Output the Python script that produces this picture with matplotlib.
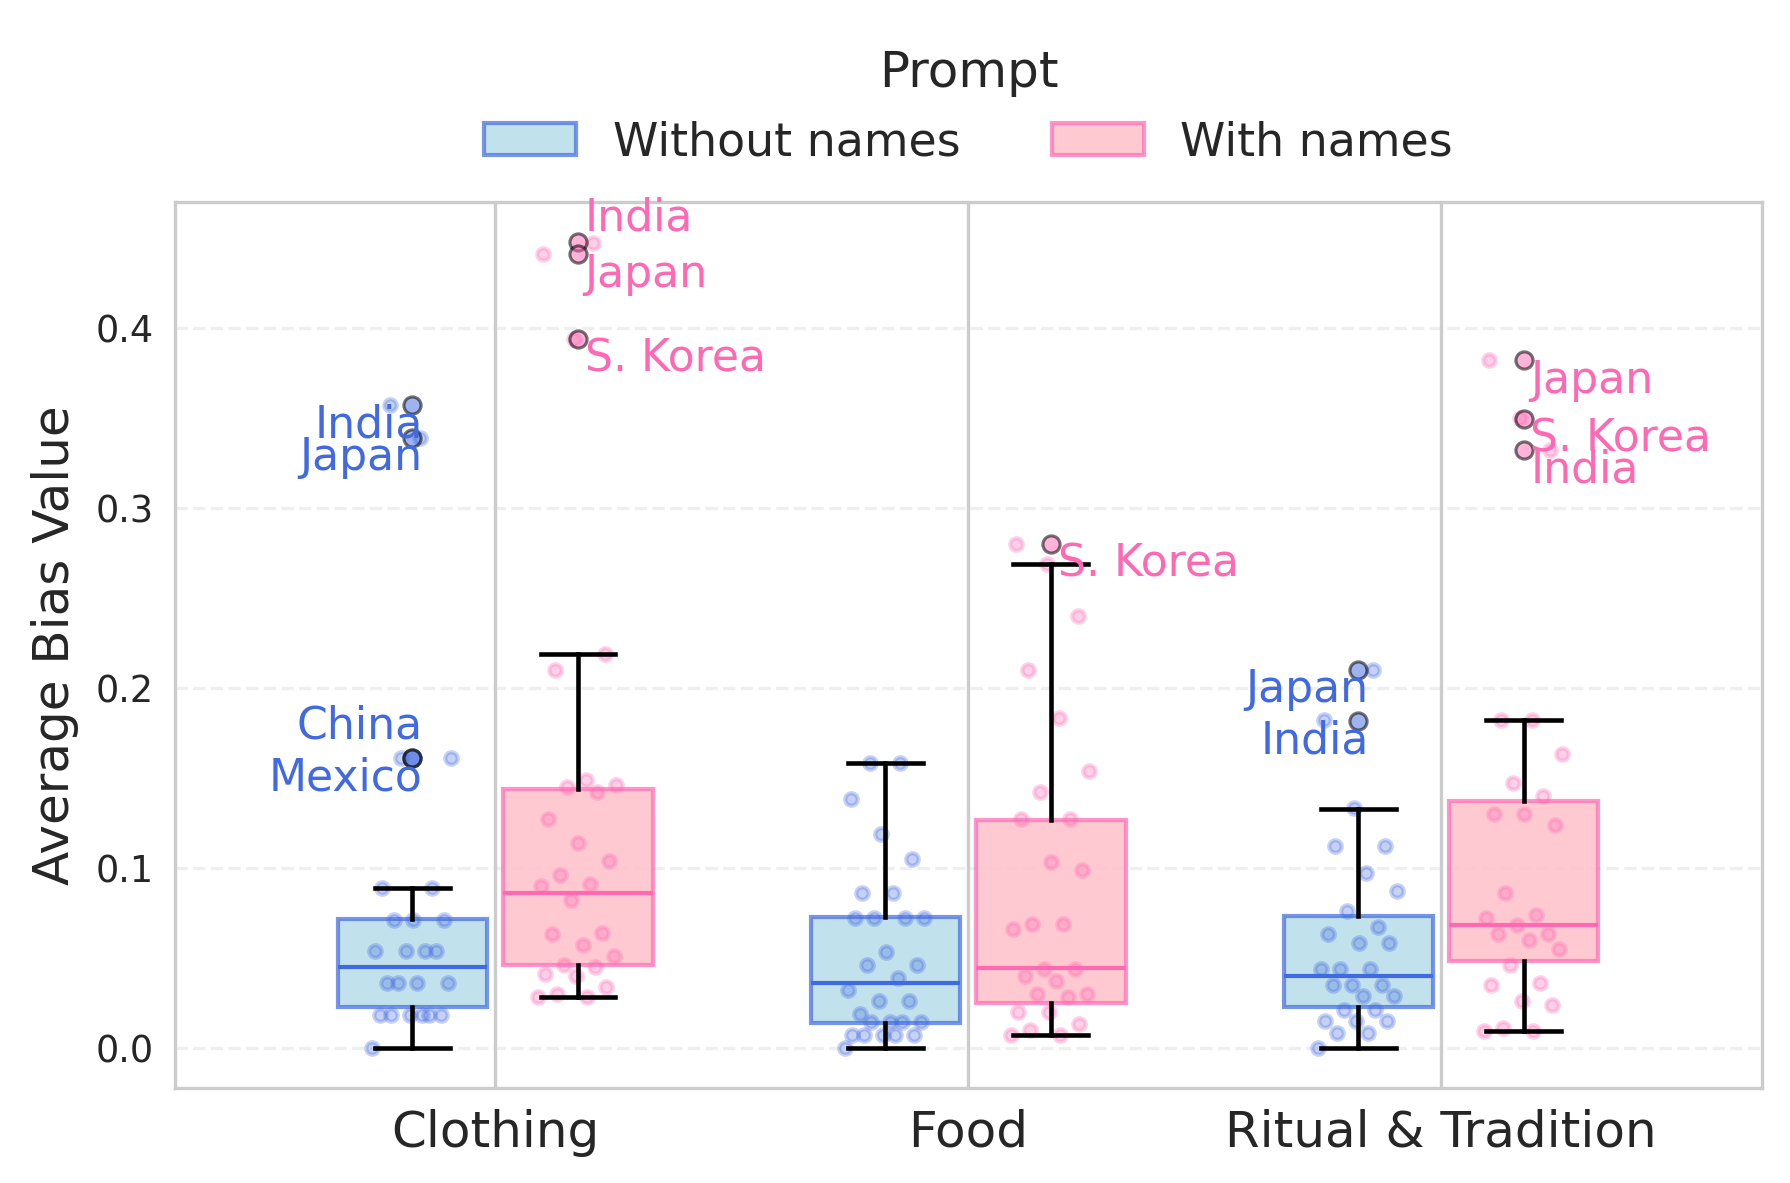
import numpy as np
import matplotlib.pyplot as plt
from matplotlib.patches import Patch
from matplotlib.colors import to_rgba

categories = ['Clothing', 'Food', 'Ritual & Tradition']
prompts = ['Without names', 'With names']

# per-country average bias values (strip points)
clothing_without = [0.0, 0.018, 0.018, 0.018, 0.018, 0.018, 0.018, 0.036, 0.036, 0.036, 0.036,
                    0.054, 0.054, 0.054, 0.054, 0.071, 0.071, 0.071, 0.089, 0.089,
                    0.161, 0.161, 0.339, 0.357]
clothing_with = [0.028, 0.028, 0.030, 0.034, 0.040, 0.041, 0.045, 0.046, 0.051, 0.057, 0.063,
                 0.064, 0.082, 0.090, 0.091, 0.096, 0.104, 0.114, 0.127, 0.142, 0.145, 0.146,
                 0.149, 0.210, 0.219, 0.394, 0.441, 0.447]
food_without = [0.0, 0.007, 0.007, 0.007, 0.007, 0.007, 0.014, 0.014, 0.014, 0.014, 0.019,
                0.026, 0.026, 0.032, 0.039, 0.046, 0.046, 0.053, 0.072, 0.072, 0.072, 0.072,
                0.086, 0.086, 0.105, 0.119, 0.138, 0.158, 0.158]
food_with = [0.007, 0.007, 0.010, 0.013, 0.020, 0.020, 0.028, 0.030, 0.030, 0.037, 0.040,
             0.044, 0.044, 0.066, 0.069, 0.069, 0.099, 0.103, 0.127, 0.127, 0.142, 0.154,
             0.183, 0.210, 0.240, 0.269, 0.280]
ritual_without = [0.0, 0.008, 0.008, 0.015, 0.015, 0.015, 0.021, 0.021, 0.029, 0.029, 0.035,
                  0.035, 0.035, 0.044, 0.044, 0.044, 0.058, 0.058, 0.063, 0.067, 0.076, 0.087,
                  0.097, 0.112, 0.112, 0.133, 0.182, 0.210]
ritual_with = [0.009, 0.009, 0.011, 0.024, 0.026, 0.035, 0.036, 0.046, 0.055, 0.060, 0.063,
               0.063, 0.068, 0.072, 0.074, 0.086, 0.124, 0.130, 0.130, 0.140, 0.147, 0.163,
               0.182, 0.182, 0.332, 0.350, 0.382]

# box statistics: (whisker low, q1, median, q3, whisker high)
box_without = [(0.0, 0.0225, 0.0446, 0.0714, 0.089),
               (0.0, 0.0137, 0.0362, 0.0724, 0.1584),
               (0.0, 0.0225, 0.0400, 0.0734, 0.1328)]
box_with = [(0.0284, 0.0457, 0.0859, 0.1436, 0.219),
            (0.0069, 0.0249, 0.0444, 0.1267, 0.2686),
            (0.0090, 0.0483, 0.0680, 0.1370, 0.182)]

# labelled outliers: (category index, prompt index, country, value)
outliers = [
    (0, 0, 'India', 0.357), (0, 0, 'Japan', 0.339), (0, 0, 'China', 0.161), (0, 0, 'Mexico', 0.161),
    (0, 1, 'India', 0.4475), (0, 1, 'Japan', 0.441), (0, 1, 'S. Korea', 0.3937),
    (1, 1, 'S. Korea', 0.280),
    (2, 0, 'Japan', 0.210), (2, 0, 'India', 0.1816),
    (2, 1, 'Japan', 0.382), (2, 1, 'S. Korea', 0.3495), (2, 1, 'India', 0.332),
]
# labels nudged upwards to avoid overlaps (offset in points)
label_nudge = {(0, 0, 'China'): 7.7, (0, 1, 'India'): 5.8}

points = [[clothing_without, clothing_with], [food_without, food_with], [ritual_without, ritual_with]]

face_cols = [to_rgba('lightblue', 0.75), to_rgba('pink', 0.85)]
edge_cols = [to_rgba('royalblue', 0.7), to_rgba('hotpink', 0.7)]
line_cols = ['royalblue', 'hotpink']
offsets = [-0.175, 0.175]
box_w = 0.316
text_col = '#262626'

fig = plt.figure(figsize=(1790 / 300, 1183 / 300), dpi=300)
ax = fig.add_axes([0.0978, 0.0803, 0.9844 - 0.0978, 0.8292 - 0.0803])

for j in range(2):
    stats = []
    for i in range(3):
        lo, q1, med, q3, hi = (box_without if j == 0 else box_with)[i]
        stats.append(dict(whislo=lo, q1=q1, med=med, q3=q3, whishi=hi, fliers=[]))
    pos = [i + offsets[j] for i in range(3)]
    ax.bxp(stats, positions=pos, widths=box_w, patch_artist=True, showfliers=False,
           boxprops=dict(facecolor=face_cols[j], edgecolor=edge_cols[j], linewidth=1.0, zorder=2),
           medianprops=dict(color=line_cols[j], linewidth=1.0, zorder=4),
           whiskerprops=dict(color='black', linewidth=1.1, zorder=4),
           capprops=dict(color='black', linewidth=1.1, zorder=4))

    for i in range(3):
        vals = np.array(points[i][j])
        n = len(vals)
        jit = ((np.arange(n) * 0.618034) % 1 - 0.5) * 2 * 0.085
        ax.scatter(i + offsets[j] + jit, vals, s=9, color=line_cols[j], alpha=0.3,
                   linewidths=1.0, zorder=3)

for ci, pj, name, val in outliers:
    x = ci + offsets[pj]
    ax.scatter([x], [val], s=17, facecolor=to_rgba(line_cols[pj], 0.5),
               edgecolor=(0, 0, 0, 0.55), linewidths=0.75, zorder=5)
    dy = label_nudge.get((ci, pj, name), -4.8)
    if pj == 0:
        ax.annotate(name, (x, val), xytext=(2.5, dy), textcoords='offset points',
                    ha='right', va='center', color=line_cols[pj], fontsize=10.6, zorder=6)
    else:
        ax.annotate(name, (x, val), xytext=(1.6, dy), textcoords='offset points',
                    ha='left', va='center', color=line_cols[pj], fontsize=10.6, zorder=6)

ax.set_xlim(-0.677, 2.679)
ax.set_ylim(-0.0224, 0.4699)
ax.set_xticks(range(3))
ax.set_xticklabels(categories, fontsize=12, color=text_col)
ax.set_yticks([0.0, 0.1, 0.2, 0.3, 0.4])
ax.set_yticklabels(['0.0', '0.1', '0.2', '0.3', '0.4'], fontsize=8.8, color=text_col)
ax.tick_params(length=0, pad=5)
ax.set_ylabel('Average Bias Value', fontsize=12, color=text_col)

ax.set_axisbelow(True)
ax.xaxis.grid(True, color='#cccccc', linewidth=0.8)
ax.yaxis.grid(True, color='#cccccc', linestyle='--', linewidth=0.8, alpha=0.3)
for sp in ax.spines.values():
    sp.set_color('#cccccc')
    sp.set_linewidth(0.8)

handles = [Patch(facecolor=face_cols[k], edgecolor=edge_cols[k], linewidth=1.0) for k in range(2)]
leg = ax.legend(handles, prompts, title='Prompt', loc='lower center', bbox_to_anchor=(0.5, 0.995),
                ncol=2, frameon=False, fontsize=11, title_fontsize=12)
for t in leg.get_texts():
    t.set_color(text_col)
leg.get_title().set_color(text_col)

fig.savefig('out.png', dpi=300)
